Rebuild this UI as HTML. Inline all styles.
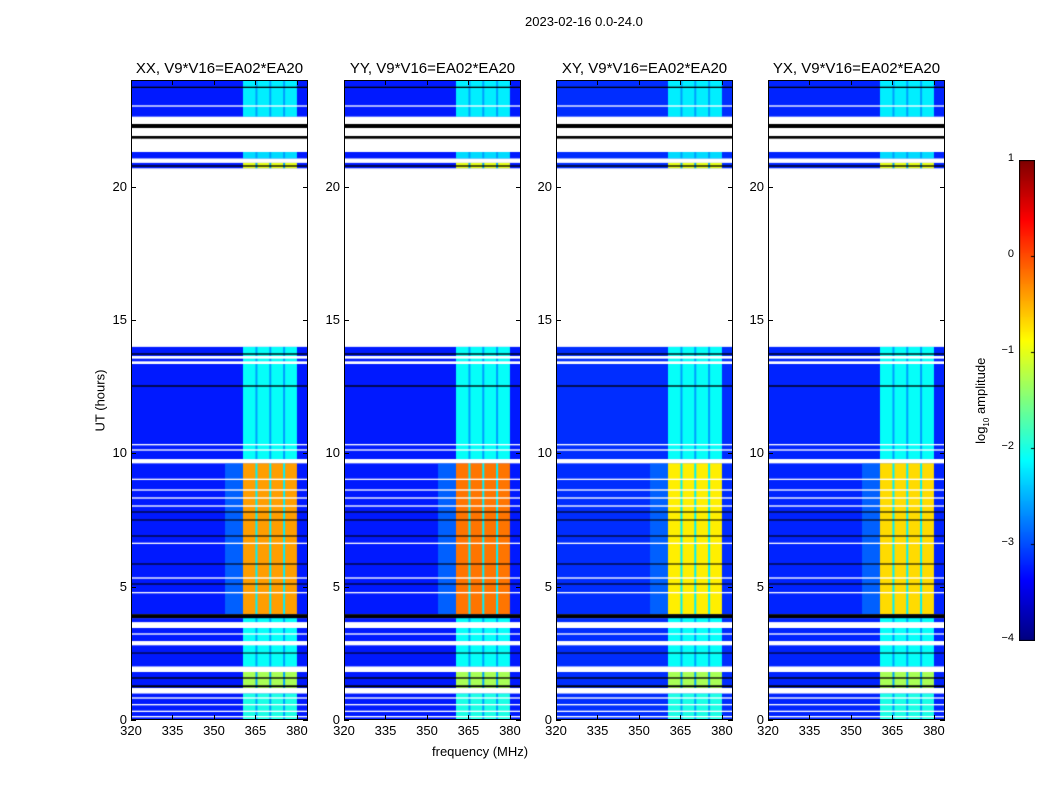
<!DOCTYPE html>
<html><head><meta charset="utf-8"><style>
body{margin:0;background:#fff;font-family:"Liberation Sans",sans-serif;}
#wrap{position:relative;width:1050px;height:800px;overflow:hidden;}
.t{position:absolute;font-size:13px;color:#000;white-space:nowrap;}
canvas{position:absolute;}
</style></head><body>
<div id="wrap">
<div class="t" style="left:525px;top:14px">2023-02-16 0.0-24.0</div>
<div class="t" style="left:432px;top:744px">frequency (MHz)</div>
<div class="t" style="left:60px;top:393px;transform:rotate(-90deg);transform-origin:center;width:80px;text-align:center">UT (hours)</div>
<div class="t" style="left:932px;top:392px;transform:rotate(-90deg);width:100px;text-align:center">log<sub style="font-size:8px">10</sub> amplitude</div>
<canvas id="cb" width="16" height="481" style="left:1019px;top:160px"></canvas>
</div>
<script>
const panelTitles=["XX, V9*V16=EA02*EA20","YY, V9*V16=EA02*EA20","XY, V9*V16=EA02*EA20","YX, V9*V16=EA02*EA20"];
const panelLeft=[131,344,556,768];
const xTicks=[320,335,350,365,380];
const yTicks=[0,5,10,15,20];
const cbTicks=[1,0,-1,-2,-3,-4];
const flagWhite=[[22.42,22.62],[21.3,21.55],[20.9,21.05],[20.6,20.68],[14.0,20.6],[13.55,13.65],[13.35,13.45],[10.3,10.35],[10.1,10.15],[9.63,9.78],[9.0,9.05],[8.6,8.65],[8.3,8.35],[8.0,8.05],[6.6,6.65],[5.3,5.35],[4.75,4.8],[3.45,3.67],[3.2,3.25],[2.8,2.96],[1.8,2.0],[1.0,1.2],[0.8,0.85],[0.55,0.6],[0.3,0.35],[0.1,0.15],[23.0,23.05],[21.65,21.72]];
const flagBlack=[[22.2,22.35],[21.8,21.9],[23.7,23.75],[20.75,20.8],[13.7,13.75],[12.5,12.55],[7.78,7.82],[7.48,7.52],[6.88,6.92],[5.83,5.87],[5.08,5.12],[3.82,3.97],[2.5,2.53],[1.55,1.6],[1.23,1.3]];
const rfiSegments=[[0,1.0,-2.0],[1.2,1.8,-1.3],[2.0,3.82,-2.1],[3.97,9.63,9],[9.78,14,-2.1],[20.68,20.9,-1.0],[21.05,21.3,-2.3],[22.62,24,-2.2]];
const strongLevel=[-0.4,-0.2,-0.8,-0.7];
const background=[-3.25,-3.25,-3.15,-3.2];
const channelGaps=[365,370,375];
const rfiRange=[360.5,380];
const fMin=320,fMax=384,tMin=0,tMax=24,plotW=177,plotH=640,plotTop=80;
function jet(v){let x=(v+4)/5;x=Math.max(0,Math.min(1,x));
 const r=Math.max(0,Math.min(1,1.5-Math.abs(4*x-3))),g=Math.max(0,Math.min(1,1.5-Math.abs(4*x-2))),b=Math.max(0,Math.min(1,1.5-Math.abs(4*x-1)));
 return `rgb(${r*255|0},${g*255|0},${b*255|0})`;}
const xs=f=>(f-fMin)/(fMax-fMin)*plotW, ys=t=>plotH-(t-tMin)/(tMax-tMin)*plotH;
const wrap=document.getElementById('wrap');
function div(cls,txt,l,t,st){const d=document.createElement('div');d.className=cls;d.textContent=txt;d.style.left=l+'px';d.style.top=t+'px';if(st)d.style.cssText+=st;wrap.appendChild(d);return d;}
panelLeft.forEach((L,p)=>{
 const c=document.createElement('canvas');c.width=plotW;c.height=plotH;c.style.left=L+'px';c.style.top=plotTop+'px';
 
 
 wrap.appendChild(c);const g=c.getContext('2d');
 g.fillStyle='#fff';g.fillRect(0,0,plotW,plotH);
 rfiSegments.forEach(s=>{
  const y0=ys(s[1]),y1=ys(s[0]);
  g.fillStyle=jet(background[p]);g.fillRect(0,y0,plotW,y1-y0);
  const lv=s[2]>5?strongLevel[p]:s[2];
  if(s[2]>5){g.fillStyle=jet(-2.9);g.fillRect(xs(354),y0,xs(rfiRange[0])-xs(354),y1-y0);}
  g.fillStyle=jet(lv);g.fillRect(xs(rfiRange[0]),y0,xs(rfiRange[1])-xs(rfiRange[0]),y1-y0);
  g.fillStyle=jet(s[2]>5?-2.2:-2.6);
  channelGaps.forEach(f=>g.fillRect(xs(f),y0,2,y1-y0));
 });
 g.fillStyle='#fff';flagWhite.forEach(s=>g.fillRect(0,ys(s[1]),plotW,ys(s[0])-ys(s[1])));
 g.fillStyle='#000';flagBlack.forEach(s=>g.fillRect(0,ys(s[1]),plotW,Math.max(1,ys(s[0])-ys(s[1]))));
 const box=document.createElement('div');box.style.cssText=`position:absolute;left:${L}px;top:${plotTop}px;width:${plotW}px;height:${plotH}px;border:1px solid #000;box-sizing:border-box`;
 
 
 wrap.appendChild(box);
 const ti=div('t',panelTitles[p],L-3,60,'font-size:15px;width:183px;text-align:center');
 
 
 yTicks.forEach(v=>{const y=plotTop+ys(v);
  const tl=div('t',v,L-34,y-8,'width:30px;text-align:right');
  
  
  [[L,1],[L+plotW-5,1]].forEach(a=>{const k=document.createElement('div');k.style.cssText=`position:absolute;left:${a[0]}px;top:${y}px;width:5px;height:1px;background:#000`;wrap.appendChild(k);});});
 xTicks.forEach(v=>{const x=L+xs(v);
  const tl=div('t',v,x-15,723,'width:30px;text-align:center');
  
  
  [plotTop,plotTop+plotH-5].forEach(y=>{const k=document.createElement('div');k.style.cssText=`position:absolute;left:${x}px;top:${y}px;width:1px;height:5px;background:#000`;wrap.appendChild(k);});});
});
const cb=document.getElementById('cb').getContext('2d');
for(let i=0;i<480;i++){cb.fillStyle=jet(1-5*i/480);cb.fillRect(0,i,16,1);}
cb.strokeStyle='#000';cb.strokeRect(0.5,0.5,15,480);
cbTicks.forEach(v=>{const y=160+(1-v)/5*480;
 const tl=div('t',v<0?'\u2212'+(-v):v,990,y-8,'width:24px;text-align:right;font-size:11px');
 
 
 cb.fillStyle='#000';cb.fillRect(12,y-160,4,1);});
</script>
</body></html>
